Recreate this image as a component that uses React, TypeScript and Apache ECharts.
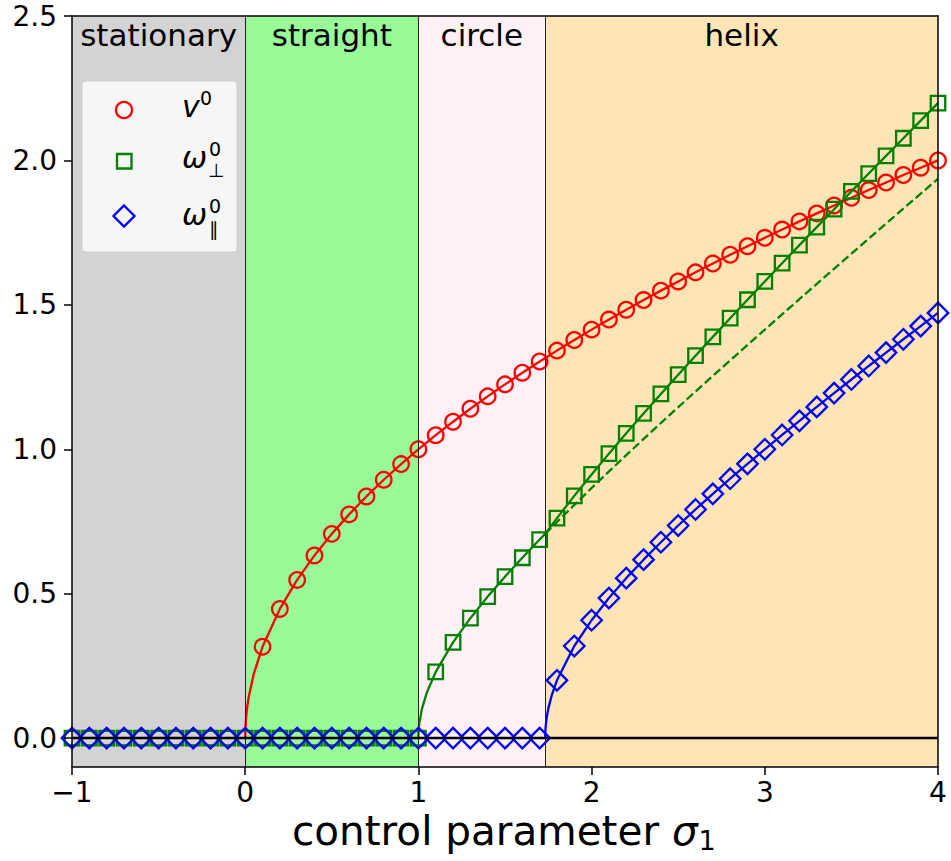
import { useEffect, useRef } from 'react';
import * as echarts from 'echarts';

// control parameter sigma_1 at each marker
const sigma = [
  -1, -0.9, -0.8, -0.7, -0.6, -0.5, -0.4, -0.3, -0.2, -0.1,
  0, 0.1, 0.2, 0.3, 0.4, 0.5, 0.6, 0.7, 0.8, 0.9,
  1, 1.1, 1.2, 1.3, 1.4, 1.5, 1.6, 1.7, 1.8, 1.9,
  2, 2.1, 2.2, 2.3, 2.4, 2.5, 2.6, 2.7, 2.8, 2.9,
  3, 3.1, 3.2, 3.3, 3.4, 3.5, 3.6, 3.7, 3.8, 3.9, 4,
];

// v^0 markers
const vMarkers = [
  0, 0, 0, 0, 0, 0, 0, 0, 0, 0,
  0, 0.3162, 0.4472, 0.5477, 0.6325, 0.7071, 0.7746, 0.8367, 0.8944, 0.9487,
  1.0, 1.0488, 1.0954, 1.1402, 1.1832, 1.2247, 1.2649, 1.3038, 1.3416, 1.3784,
  1.4142, 1.4491, 1.4832, 1.5166, 1.5492, 1.5811, 1.6125, 1.6432, 1.6733, 1.7029,
  1.7321, 1.7607, 1.7889, 1.8166, 1.8439, 1.8708, 1.8974, 1.9235, 1.9494, 1.9748, 2.0,
];

// omega_perp^0 markers
const wPerpMarkers = [
  0, 0, 0, 0, 0, 0, 0, 0, 0, 0,
  0, 0, 0, 0, 0, 0, 0, 0, 0, 0,
  0, 0.2291, 0.3317, 0.4153, 0.4899, 0.559, 0.6245, 0.6874, 0.7616, 0.8386,
  0.9129, 0.9849, 1.0551, 1.124, 1.1916, 1.2583, 1.3241, 1.3892, 1.4537, 1.5177,
  1.5811, 1.6442, 1.7068, 1.7692, 1.8312, 1.893, 1.9545, 2.0158, 2.0768, 2.1378, 2.1985,
];

// omega_par^0 markers
const wParMarkers = [
  0, 0, 0, 0, 0, 0, 0, 0, 0, 0,
  0, 0, 0, 0, 0, 0, 0, 0, 0, 0,
  0, 0, 0, 0, 0, 0, 0, 0, 0.2, 0.3189,
  0.4082, 0.4848, 0.5538, 0.6178, 0.6782, 0.736, 0.7916, 0.8456, 0.8981, 0.9496,
  1.0, 1.0496, 1.0985, 1.1467, 1.1944, 1.2416, 1.2884, 1.3348, 1.3808, 1.4265, 1.472,
];

// curve points near the onsets (between markers)
const vOnset = [[0, 0], [0.001, 0.0316], [0.005, 0.0707], [0.01, 0.1], [0.02, 0.1414], [0.05, 0.2236]];
const wPerpOnset = [[1, 0], [1.001, 0.0224], [1.005, 0.0501], [1.02, 0.1005], [1.05, 0.1601]];
const wPerpKink = [[1.7321, 0.7071]];
const wParOnset = [[1.7321, 0], [1.733, 0.0234], [1.735, 0.0413], [1.74, 0.0678], [1.75, 0.1021], [1.77, 0.1488]];
// dashed continuation of the circle branch
const wPerpDashed = [
  [1.7321, 0.7071], [1.8, 0.7483], [2.0, 0.866], [2.2, 0.9798], [2.4, 1.0909], [2.6, 1.2],
  [2.8, 1.3077], [3.0, 1.4142], [3.2, 1.5199], [3.4, 1.6248], [3.6, 1.7292], [3.8, 1.833], [4.0, 1.9365],
];

// regimes
const regimeNames = ['stationary', 'straight', 'circle', 'helix'];
const regimeBounds = [-1, 0, 1, 1.7321, 4];
const regimeColors = ['#d3d3d3', '#98fb98', '#fff0f5', '#ffe4b5'];

const xTicks = [-1, 0, 1, 2, 3, 4];
const yTicks = [0, 0.5, 1, 1.5, 2, 2.5];

const FONT = '"DejaVu Sans"';

export default function App() {
  const ref = useRef<HTMLDivElement>(null);

  useEffect(() => {
    const el = ref.current as HTMLDivElement;
    const chart = echarts.init(el, null, { renderer: 'svg' });

    const ctx = document.createElement('canvas').getContext('2d') as CanvasRenderingContext2D;
    const measure = (t: string, font: string) => {
      ctx.font = font;
      return ctx.measureText(t).width;
    };

    const zip = (ys: number[], lo: number, hi: number) =>
      sigma
        .map((x, i) => [x, ys[i]])
        .filter(([x]) => x >= lo - 1e-9 && x <= hi + 1e-9);

    const vLine = [...vOnset, ...zip(vMarkers, 0.1, 4)];
    const wPerpLine = [...wPerpOnset, ...zip(wPerpMarkers, 1.1, 1.7), ...wPerpKink, ...zip(wPerpMarkers, 1.8, 4)];
    const wParLine = [...wParOnset, ...zip(wParMarkers, 1.8, 4)];

    const marker = (name: string, symbol: string, size: number, color: string, ys: number[], z: number) => ({
      name,
      type: 'scatter',
      symbol,
      symbolSize: size,
      silent: true,
      z,
      itemStyle: { color: 'transparent', borderColor: color, borderWidth: 2.3, opacity: 1 },
      data: sigma.map((x, i) => [x, ys[i]]),
    });

    const curve = (color: string, data: number[][], z: number, dashed = false) => ({
      type: 'line',
      showSymbol: false,
      symbol: 'none',
      silent: true,
      z,
      lineStyle: { color, width: 2.3, type: dashed ? [8.5, 3.7] : 'solid' },
      data,
    });

    // x-axis title pieces
    const mainFont = `40.5px ${FONT}`;
    const sigFont = `italic 40.5px ${FONT}`;
    const subFont = `27px ${FONT}`;
    const mainText = 'control parameter ';
    const x0 = 292;
    const w1 = measure(mainText, mainFont);
    const w2 = measure('σ', sigFont);

    const txt = (text: string, x: number, y: number, font: string, align = 'left') => ({
      type: 'text',
      silent: true,
      z: 100,
      style: {
        text,
        x,
        y,
        font,
        fill: '#000',
        align,
        verticalAlign: 'middle',
        textAlign: align,
        textVerticalAlign: 'middle',
      },
    });

    const legendFont = `italic 30px ${FONT}`;
    const supFont = `19px ${FONT}`;

    const option = {
      animation: false,
      backgroundColor: '#fff',
      grid: { left: 72, right: 13, top: 16, bottom: 94, containLabel: false, outerBoundsMode: 'none' },
      xAxis: [
        {
          type: 'value',
          min: -1,
          max: 4,
          interval: 1,
          z: 10,
          axisLine: { show: true, onZero: false, lineStyle: { color: '#000', width: 1.5 } },
          axisTick: { show: true, length: 8, lineStyle: { color: '#000', width: 1.5 } },
          axisLabel: {
            margin: 11,
            color: '#000',
            fontSize: 28,
            fontFamily: FONT,
            formatter: (v: number) => (v < 0 ? '\u2212' + Math.abs(v) : String(v)),
          },
          splitLine: { show: false },
        },
        {
          type: 'value',
          position: 'top',
          min: -1,
          max: 4,
          z: 10,
          axisLine: { show: true, onZero: false, lineStyle: { color: '#000', width: 1.5 } },
          axisTick: { show: false },
          axisLabel: { show: false },
          splitLine: { show: false },
        },
      ],
      yAxis: [
        {
          type: 'value',
          min: -0.1,
          max: 2.5,
          z: 10,
          axisLine: { show: true, onZero: false, lineStyle: { color: '#000', width: 1.5 } },
          axisTick: { show: true, length: 8, customValues: yTicks, lineStyle: { color: '#000', width: 1.5 } },
          axisLabel: {
            margin: 15,
            color: '#000',
            fontSize: 28,
            fontFamily: FONT,
            customValues: yTicks,
            formatter: (v: number) => v.toFixed(1),
          },
          splitLine: { show: false },
        },
        {
          type: 'value',
          position: 'right',
          min: -0.1,
          max: 2.5,
          z: 10,
          axisLine: { show: true, onZero: false, lineStyle: { color: '#000', width: 1.5 } },
          axisTick: { show: false },
          axisLabel: { show: false },
          splitLine: { show: false },
        },
      ],
      series: [
        {
          type: 'line',
          silent: true,
          z: 1,
          symbol: 'none',
          lineStyle: { opacity: 0 },
          data: [[xTicks[0], 0], [xTicks[xTicks.length - 1], 0]],
          markArea: {
            silent: true,
            data: regimeNames.map((name, i) => [
              {
                name,
                xAxis: regimeBounds[i],
                itemStyle: { color: regimeColors[i], opacity: 1 },
                label: {
                  show: true,
                  position: 'insideTop',
                  distance: 3,
                  color: '#000',
                  fontSize: 31,
                  fontFamily: FONT,
                },
              },
              { xAxis: regimeBounds[i + 1] },
            ]),
          },
          markLine: {
            silent: true,
            symbol: 'none',
            label: { show: false },
            lineStyle: { color: '#222', width: 1, type: 'solid' },
            data: regimeBounds.slice(1, 4).map((b) => ({ xAxis: b })),
          },
        },
        curve('#ff0000', vLine, 2),
        marker('v', 'circle', 15.5, '#ff0000', vMarkers, 3),
        curve('#008000', wPerpLine, 4),
        curve('#008000', wPerpDashed, 4, true),
        marker('wperp', 'rect', 14.5, '#008000', wPerpMarkers, 5),
        curve('#0000ff', wParLine, 6),
        marker('wpar', 'diamond', 20.5, '#0000ff', wParMarkers, 7),
        {
          type: 'line',
          silent: true,
          z: 8,
          symbol: 'none',
          lineStyle: { color: '#000', width: 2.5 },
          data: [[-1, 0], [4, 0]],
        },
      ],
      graphic: [
        // legend
        {
          type: 'rect',
          silent: true,
          z: 90,
          shape: { x: 82, y: 81, width: 155, height: 171, r: 4 },
          style: { fill: 'rgba(255,255,255,0.8)', stroke: 'rgba(204,204,204,0.8)', lineWidth: 1 },
        },
        {
          type: 'circle',
          silent: true,
          z: 91,
          shape: { cx: 124, cy: 110, r: 8 },
          style: { fill: 'none', stroke: '#ff0000', lineWidth: 2.3 },
        },
        {
          type: 'rect',
          silent: true,
          z: 91,
          shape: { x: 117, y: 154, width: 14.5, height: 14.5 },
          style: { fill: 'none', stroke: '#008000', lineWidth: 2.3 },
        },
        {
          type: 'polygon',
          silent: true,
          z: 91,
          shape: { points: [[124, 205.5], [134.5, 216], [124, 226.5], [113.5, 216]] },
          style: { fill: 'none', stroke: '#0000ff', lineWidth: 2.3 },
        },
        txt('v', 182, 106.6, legendFont),
        txt('0', 200, 98.4, supFont),
        txt('ω', 182, 157.6, legendFont),
        txt('0', 209, 149.4, supFont),
        txt('⊥', 208, 170.4, supFont),
        txt('ω', 182, 214.6, legendFont),
        txt('0', 209, 206.4, supFont),
        txt('∥', 209, 228.5, supFont),
        // x-axis title
        txt(mainText, x0, 831.2, mainFont),
        txt('σ', x0 + w1, 831.2, sigFont),
        txt('1', x0 + w1 + w2 + 1, 840.7, subFont),
      ],
    };

    chart.setOption(option as any);
    return () => chart.dispose();
  }, []);

  return (
    <div
      ref={ref}
      style={{ position: 'absolute', left: 0, top: 0, width: 951, height: 861, background: '#fff' }}
    />
  );
}
